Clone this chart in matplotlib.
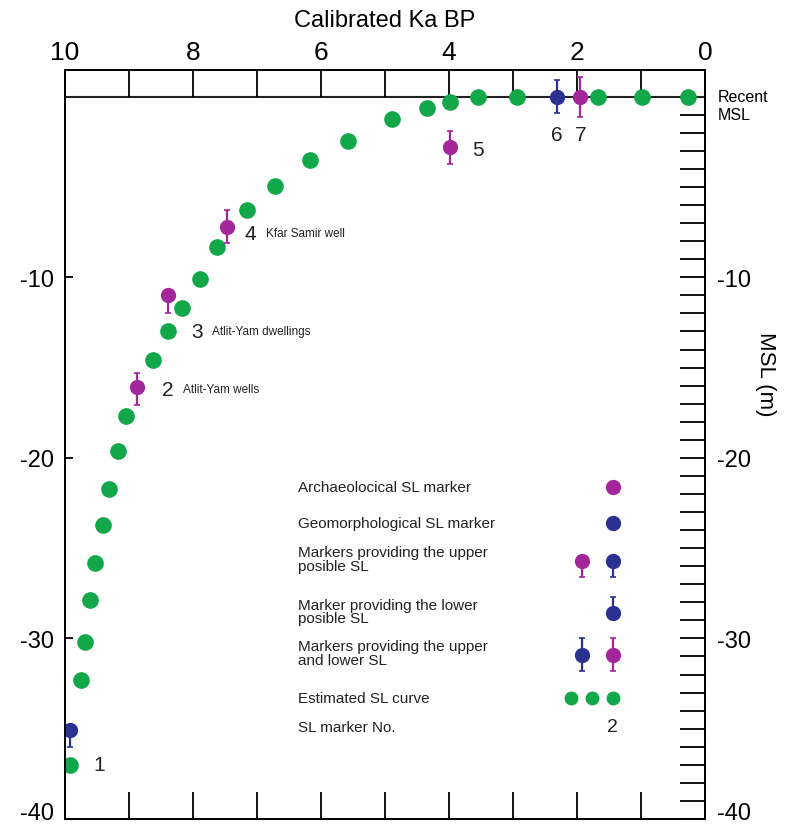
import matplotlib.pyplot as plt
import matplotlib.transforms as mtransforms
import numpy as np

# estimated sea level curve (calibrated ka BP, metres relative to recent MSL)
curve_ka = [9.92, 9.75, 9.69, 9.61, 9.53, 9.41, 9.31, 9.17, 9.05, 8.63, 8.39,
            8.17, 7.89, 7.63, 7.16, 6.72, 6.17, 5.58, 4.89, 4.34, 3.98, 3.55,
            2.94, 1.67, 0.98, 0.27]
curve_msl = [-37.0, -32.3, -30.2, -27.9, -25.8, -23.7, -21.7, -19.6, -17.7,
             -14.6, -12.95, -11.7, -10.1, -8.3, -6.3, -4.95, -3.5, -2.45,
             -1.25, -0.6, -0.3, 0, 0, 0, 0, 0]

# SL markers 1..7
marker_no = ["1", "2", "3", "4", "5", "6", "7"]
marker_ka = [9.92, 8.87, 8.39, 7.47, 3.98, 2.31, 1.95]
marker_msl = [-35.1, -16.1, -11.0, -7.2, -2.8, 0.0, 0.0]
marker_err_low = [0.9, 1.0, 1.0, 0.9, 0.9, 0.9, 1.1]
marker_err_up = [0.0, 0.8, 0.0, 0.9, 0.9, 0.9, 1.1]
marker_kind = ["geo", "arch", "arch", "arch", "arch", "geo", "arch"]
marker_site = ["", "Atlit-Yam wells", "Atlit-Yam dwellings", "Kfar Samir well",
               "", "", ""]

GREEN = "#12a84a"
MAGENTA = "#a3279b"
BLUE = "#2b3190"
colors = {"arch": MAGENTA, "geo": BLUE}

plt.rcParams['font.family'] = ['Liberation Sans', 'DejaVu Sans']

fig = plt.figure(figsize=(7.87, 8.28), dpi=100)
ax = fig.add_axes([0.0826, 0.0097, 0.8132, 0.905])
ax.set_xlim(10, 0)
ax.set_ylim(-40, 1.5)

for s in ax.spines.values():
    s.set_linewidth(1.3)

ax.axhline(0, color="#222222", lw=1.5, zorder=1)

ax.plot(curve_ka, curve_msl, "o", color=GREEN, ms=12, mec="none", zorder=3)

for i in range(len(marker_no)):
    c = colors[marker_kind[i]]
    ax.errorbar(marker_ka[i], marker_msl[i],
                yerr=[[marker_err_low[i]], [marker_err_up[i]]],
                fmt="o", color=c, ms=11, mec="none", elinewidth=1.6,
                capsize=2, capthick=1.2, zorder=4)

# marker numbers and site names
num_pos = [(9.56, -37.0), (8.48, -16.2), (8.03, -13.0), (7.19, -7.55),
           (3.64, -2.9), (2.31, -2.1), (1.95, -2.1)]
for i, (x, y) in enumerate(num_pos):
    ha = "center" if i >= 5 else "left"
    ax.text(x, y, marker_no[i], fontsize=15, ha=ha, va="center", color="#222222")
    if marker_site[i]:
        ax.text(x - 0.33, y, marker_site[i], fontsize=8.5, ha="left",
                va="center", color="#222222")

# axes, ticks
ax.xaxis.tick_top()
ax.xaxis.set_label_position("top")
ax.set_xticks([10, 8, 6, 4, 2, 0])
ax.set_xticks(np.arange(1, 10, 2), minor=True)
ax.set_xticklabels(["10", "8", "6", "4", "2", "0"], fontsize=19)
ax.tick_params(axis="x", which="both", direction="in", length=19.5, width=1.3,
               top=True, bottom=True, pad=4)
ax.set_xlabel("Calibrated Ka BP", fontsize=17, labelpad=10)

ax.set_yticks([-10, -20, -30, -40])
ax.set_yticklabels(["-10", "-20", "-30", "-40"], fontsize=17)
ax.tick_params(axis="y", direction="in", length=6, width=1.3, pad=8)

ax2 = ax.twinx()
ax2.set_ylim(ax.get_ylim())
ax2.set_yticks([-10, -20, -30, -40])
ax2.set_yticks(np.arange(-39, 0, 1), minor=True)
ax2.set_yticklabels(["-10", "-20", "-30", "-40"], fontsize=17)
ax2.tick_params(axis="y", which="both", direction="in", length=18, width=1.3,
                pad=9)
for s in ax2.spines.values():
    s.set_linewidth(1.3)

# lift the bottom -40 labels a little so they stay inside the picture
lift = mtransforms.ScaledTranslation(0, 6 / 72, fig.dpi_scale_trans)
for lab in [ax.get_yticklabels()[-1], ax2.get_yticklabels()[-1]]:
    lab.set_transform(lab.get_transform() + lift)

ax.text(-0.2, 0, "Recent", fontsize=11.5, ha="left", va="center",
        clip_on=False)
ax.text(-0.2, -1.0, "MSL", fontsize=11.5, ha="left", va="center",
        clip_on=False)
fig.text(0.973, 0.548, "MSL (m)", rotation=270, fontsize=16, ha="center",
         va="center")

# legend drawn by hand
tx = 6.36
legend_rows = [
    ("Archaeolocical SL marker", -21.6),
    ("Geomorphological SL marker", -23.6),
    ("Markers providing the upper\nposible SL", -25.6),
    ("Marker providing the lower\nposible SL", -28.5),
    ("Markers providing the upper\nand lower SL", -30.8),
    ("Estimated SL curve", -33.3),
    ("SL marker No.", -34.9),
]
for label, y in legend_rows:
    ax.text(tx, y, label, fontsize=11, ha="left", va="center",
            linespacing=0.95, color="#222222")

kw = dict(fmt="o", ms=11, mec="none", elinewidth=1.6, capsize=2, capthick=1.2)
ax.plot(1.44, -21.6, "o", color=MAGENTA, ms=11, mec="none")
ax.plot(1.44, -23.6, "o", color=BLUE, ms=11, mec="none")
ax.errorbar(1.92, -25.7, yerr=[[0.9], [0]], color=MAGENTA, **kw)
ax.errorbar(1.44, -25.7, yerr=[[0.9], [0]], color=BLUE, **kw)
ax.errorbar(1.44, -28.6, yerr=[[0], [0.9]], color=BLUE, **kw)
ax.errorbar(1.92, -30.9, yerr=[[0.9], [0.9]], color=BLUE, **kw)
ax.errorbar(1.44, -30.9, yerr=[[0.9], [0.9]], color=MAGENTA, **kw)
ax.plot([2.09, 1.77, 1.44], [-33.3] * 3, "o", color=GREEN, ms=10, mec="none")
ax.text(1.44, -34.9, "2", fontsize=14, ha="center", va="center",
        color="#222222")

plt.savefig("out.png", dpi=100)
